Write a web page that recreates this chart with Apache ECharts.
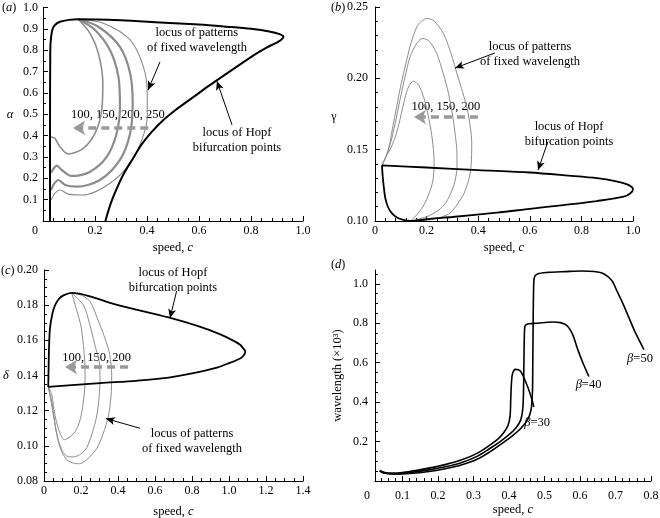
<!DOCTYPE html>
<html><head><meta charset="utf-8">
<script src="https://cdn.jsdelivr.net/npm/echarts@6/dist/echarts.min.js"></script>
<style>html,body{margin:0;padding:0;background:#fff}#c{width:660px;height:518px}</style>
</head><body><div id="c"></div>
<script>
// ---------------- data ----------------
// (a) alpha vs speed
const hopfA = [[0.027,0],[0.027,0.4],[0.028,0.8],[0.031,0.86],[0.037,0.9],[0.046,0.918],[0.065,0.933],[0.1,0.942],[0.135,0.945],[0.3,0.94],[0.45,0.93],[0.6,0.92],[0.706,0.91],[0.8,0.9],[0.87,0.888],[0.91,0.875],[0.925,0.862],[0.915,0.848],[0.899,0.836],[0.86,0.812],[0.822,0.785],[0.76,0.735],[0.706,0.69],[0.64,0.635],[0.578,0.58],[0.51,0.52],[0.46,0.47],[0.42,0.42],[0.38,0.36],[0.347,0.295],[0.31,0.22],[0.283,0.15],[0.26,0.08],[0.24,0]];
const patA100 = [[0.136,0.945],[0.181,0.879],[0.213,0.785],[0.23,0.645],[0.226,0.52],[0.2,0.41],[0.155,0.34],[0.097,0.314],[0.065,0.348],[0.046,0.387],[0.031,0.395]];
const patA150 = [[0.136,0.945],[0.2,0.895],[0.258,0.80],[0.29,0.676],[0.296,0.535],[0.283,0.41],[0.245,0.30],[0.181,0.231],[0.11,0.211],[0.072,0.239],[0.053,0.259],[0.037,0.239],[0.031,0.226]];
const patA200 = [[0.136,0.945],[0.213,0.91],[0.296,0.816],[0.335,0.692],[0.345,0.551],[0.335,0.41],[0.296,0.286],[0.219,0.192],[0.13,0.161],[0.085,0.169],[0.059,0.192],[0.042,0.173],[0.031,0.145]];
const patA250 = [[0.136,0.945],[0.232,0.926],[0.335,0.848],[0.386,0.723],[0.401,0.598],[0.401,0.489],[0.38,0.379],[0.335,0.27],[0.258,0.177],[0.155,0.122],[0.097,0.126],[0.065,0.145],[0.046,0.13],[0.031,0.098]];

// (b) gamma vs speed
const hopfB = [[0.027,0.139],[0.2,0.1375],[0.4,0.1357],[0.6,0.134],[0.75,0.1318],[0.86,0.13],[0.935,0.1278],[0.975,0.1258],[0.995,0.1238],[1.0,0.1222],[0.99,0.1195],[0.964,0.117],[0.86,0.114],[0.731,0.1112],[0.6,0.1085],[0.472,0.1058],[0.3,0.1028],[0.213,0.1015],[0.137,0.1],[0.11,0.1008],[0.085,0.1025],[0.065,0.1055],[0.05,0.11],[0.04,0.116],[0.034,0.124],[0.03,0.131],[0.027,0.139]];
const patB100 = [[0.027,0.139],[0.042,0.145],[0.058,0.150],[0.075,0.157],[0.09,0.166],[0.103,0.176],[0.116,0.186],[0.13,0.194],[0.149,0.198],[0.17,0.195],[0.19,0.186],[0.205,0.175],[0.22,0.16],[0.228,0.147],[0.229,0.138],[0.224,0.128],[0.215,0.122],[0.2,0.115],[0.182,0.109],[0.16,0.104],[0.137,0.1]];
const patB150 = [[0.027,0.139],[0.035,0.142],[0.048,0.148],[0.065,0.158],[0.08,0.17],[0.097,0.185],[0.115,0.2],[0.136,0.215],[0.16,0.224],[0.185,0.228],[0.21,0.226],[0.239,0.2175],[0.265,0.203],[0.285,0.1895],[0.3,0.175],[0.31,0.162],[0.317,0.15],[0.318,0.138],[0.31,0.128],[0.299,0.1217],[0.275,0.113],[0.247,0.1077],[0.2,0.103],[0.137,0.1]];
const patB200 = [[0.027,0.139],[0.038,0.143],[0.052,0.15],[0.068,0.165],[0.084,0.18],[0.1,0.195],[0.123,0.213],[0.14,0.225],[0.162,0.236],[0.18,0.24],[0.203,0.242],[0.23,0.24],[0.265,0.2315],[0.29,0.22],[0.31,0.208],[0.335,0.193],[0.356,0.18],[0.37,0.165],[0.375,0.155],[0.372,0.138],[0.362,0.128],[0.344,0.119],[0.32,0.112],[0.286,0.105],[0.22,0.101],[0.137,0.1]];

// (c) delta vs speed
const hopfC = [[0.023,0.1335],[0.025,0.145],[0.027,0.155],[0.032,0.1666],[0.045,0.175],[0.06,0.18],[0.08,0.1835],[0.105,0.1856],[0.15,0.187],[0.4,0.180],[0.673,0.173],[0.85,0.1675],[0.95,0.1635],[1.02,0.16],[1.06,0.1575],[1.08,0.155],[1.088,0.1537],[1.08,0.1515],[1.06,0.1497],[1.0,0.147],[0.935,0.1445],[0.8,0.1412],[0.664,0.1386],[0.5,0.137],[0.303,0.1357],[0.15,0.1345],[0.023,0.1335]];
const patC100 = [[0.023,0.1335],[0.042,0.129],[0.06,0.117],[0.087,0.107],[0.11,0.1035],[0.123,0.104],[0.145,0.1055],[0.168,0.108],[0.19,0.113],[0.204,0.119],[0.218,0.13],[0.222,0.138],[0.22,0.148],[0.213,0.157],[0.2,0.168],[0.177,0.177],[0.15,0.187]];
const patC150 = [[0.023,0.1335],[0.035,0.127],[0.05,0.118],[0.065,0.109],[0.078,0.103],[0.1,0.097],[0.125,0.094],[0.159,0.0937],[0.2,0.0955],[0.231,0.099],[0.26,0.107],[0.285,0.117],[0.298,0.128],[0.303,0.138],[0.298,0.148],[0.276,0.157],[0.245,0.17],[0.213,0.18],[0.15,0.187]];
const patC200 = [[0.023,0.1335],[0.042,0.125],[0.056,0.115],[0.069,0.1065],[0.09,0.098],[0.12,0.0925],[0.15,0.0905],[0.18,0.0898],[0.204,0.0902],[0.24,0.093],[0.285,0.0985],[0.32,0.107],[0.348,0.117],[0.362,0.128],[0.366,0.14],[0.355,0.152],[0.33,0.161],[0.29,0.172],[0.249,0.182],[0.2,0.1858],[0.15,0.187]];

// (d) wavelength (x10^3) vs speed
const beta30 = [[0.036,0.052],[0.045,0.045],[0.06,0.04],[0.08,0.04],[0.12,0.048],[0.17,0.064],[0.22,0.083],[0.265,0.106],[0.31,0.14],[0.347,0.183],[0.37,0.215],[0.385,0.245],[0.397,0.28],[0.403,0.33],[0.405,0.42],[0.407,0.50],[0.41,0.545],[0.418,0.566],[0.432,0.558],[0.446,0.507],[0.46,0.44],[0.47,0.375]];
const beta40 = [[0.036,0.052],[0.045,0.043],[0.06,0.038],[0.08,0.037],[0.12,0.043],[0.17,0.055],[0.22,0.072],[0.265,0.093],[0.31,0.125],[0.347,0.166],[0.375,0.2],[0.4,0.235],[0.42,0.27],[0.433,0.31],[0.439,0.37],[0.441,0.47],[0.442,0.6],[0.443,0.72],[0.445,0.785],[0.455,0.797],[0.48,0.80],[0.52,0.806],[0.545,0.803],[0.565,0.785],[0.58,0.74],[0.593,0.67],[0.608,0.6],[0.625,0.53]];
const beta50 = [[0.036,0.052],[0.045,0.042],[0.06,0.037],[0.08,0.035],[0.12,0.038],[0.17,0.047],[0.22,0.062],[0.265,0.081],[0.31,0.11],[0.347,0.149],[0.38,0.19],[0.41,0.23],[0.435,0.27],[0.452,0.31],[0.462,0.36],[0.466,0.45],[0.467,0.6],[0.468,0.8],[0.469,0.95],[0.471,1.03],[0.48,1.05],[0.51,1.058],[0.56,1.062],[0.605,1.065],[0.64,1.062],[0.668,1.05],[0.69,1.015],[0.705,0.96],[0.724,0.887],[0.752,0.768],[0.765,0.72],[0.78,0.666]];

// tick labels
const dXTicks = [0.1,0.2,0.3,0.4,0.5,0.6,0.7,0.8];
const dYTicks = [0.2,0.4,0.6,0.8,1.0];

// texts
const txtPatterns = 'locus of patterns\nof fixed wavelength';
const txtHopf = 'locus of Hopf\nbifurcation points';
const notes = [
  {g:0, text: txtPatterns, at:[0.592,0.845]},
  {g:0, text: txtHopf, at:[0.746,0.379]},
  {g:0, text:'100, 150, 200, 250', at:[0.288,0.497]},
  {g:1, text: txtPatterns, at:[0.601,0.2167]},
  {g:1, text:'100, 150, 200', at:[0.275,0.18]},
  {g:1, text: txtHopf, at:[0.752,0.1606]},
  {g:2, text: txtHopf, at:[0.697,0.194]},
  {g:2, text:'100, 150, 200', at:[0.284,0.15]},
  {g:2, text: txtPatterns, at:[0.8,0.1025]},
  {g:3, text:'{i|β}=30', at:[0.479,0.298]},
  {g:3, text:'{i|β}=40', at:[0.624,0.487]},
  {g:3, text:'{i|β}=50', at:[0.769,0.619]}
];
const arrowsBlack = [
  {g:0, from:[0.45,0.745], to:[0.404,0.614]},
  {g:0, from:[0.727,0.45], to:[0.669,0.655]},
  {g:1, from:[0.465,0.2178], to:[0.31,0.2072]},
  {g:1, from:[0.67,0.1556], to:[0.632,0.1357]},
  {g:2, from:[0.717,0.188], to:[0.681,0.1727]},
  {g:2, from:[0.519,0.110], to:[0.335,0.1155]}
];
const arrowsDashed = [
  {g:0, from:[0.405,0.436], to:[0.116,0.436]},
  {g:1, from:[0.399,0.1729], to:[0.151,0.1729]},
  {g:2, from:[0.454,0.1448], to:[0.114,0.1448]}
];

// ---------------- chart ----------------
const FONT = 'Liberation Serif';
const GRAY = '#8c8c8c';
const chart = echarts.init(document.getElementById('c'), null, {renderer:'canvas'});

const baseLabel = (margin) => ({fontFamily: FONT, fontSize: 12, color: '#000', margin});
const nameStyle = {fontFamily: FONT, fontSize: 12.5, color: '#000',
  rich: {i: {fontFamily: FONT, fontSize: 12.5, fontStyle: 'italic', color:'#000'}}};

function axisCommon() {
  return {
    axisLine: {show: true, onZero: false, lineStyle: {color: '#000', width: 1}},
    axisTick: {show: true, inside: true, length: 5, lineStyle: {color: '#000', width: 1}},
    minorTick: {show: true, length: 3, lineStyle: {color: '#000', width: 1}},
    splitLine: {show: false}, minorSplitLine: {show: false}
  };
}
function xAx(grid, min, max, interval, minorSplit, fmt, margin, nameGap) {
  const a = axisCommon();
  a.minorTick.splitNumber = minorSplit;
  return Object.assign(a, {type:'value', gridIndex:grid, position:'bottom', min, max, interval,
    axisLabel: Object.assign(baseLabel(margin), {formatter: fmt, showMinLabel:true, showMaxLabel:true}),
    name: 'speed, {i|c}', nameLocation:'middle', nameGap, nameTextStyle: nameStyle});
}
function yAx(grid, min, max, interval, minorSplit, fmt, margin) {
  const a = axisCommon();
  a.minorTick.splitNumber = minorSplit;
  return Object.assign(a, {type:'value', gridIndex:grid, position:'left', min, max, interval,
    axisLabel: Object.assign(baseLabel(margin), {formatter: fmt, showMinLabel:true, showMaxLabel:true})});
}

const xAxes = [
  xAx(0, 0, 1.0, 0.2, 5, v => v === 0 ? '' : v.toFixed(1), 4, 20),
  xAx(1, 0, 1.0, 0.2, 5, v => v === 0 ? '0' : v.toFixed(1), 4, 20),
  xAx(2, 0, 1.4, 0.2, 4, v => v === 0 ? '0' : v.toFixed(1), 4, 24),
];
const yAxes = [
  yAx(0, 0, 1.0, 0.1, 2, v => v === 0 ? '' : v.toFixed(1), 5),
  yAx(1, 0.10, 0.25, 0.05, 5, v => v.toFixed(2), 7),
  yAx(2, 0.08, 0.20, 0.02, 4, v => v.toFixed(2), 6),
];
// (d) axes: custom ticks
const dXMin = 0.0225, dXMax = 0.8, dYMin = 0, dYMax = 1.07;
const dMinorX = []; for (let k = 2; k <= 40; k++) { if (k % 5) dMinorX.push(+(k * 0.02).toFixed(2)); }
const dMinorY = []; for (let k = 1; k <= 21; k++) { if (k % 4) dMinorY.push(+(k * 0.05).toFixed(2)); }
xAxes.push({type:'value', gridIndex:3, position:'bottom', min:dXMin, max:dXMax,
  axisLine:{show:true, onZero:false, lineStyle:{color:'#000', width:1}},
  axisTick:{show:true, inside:true, length:5, customValues: dXTicks, lineStyle:{color:'#000'}},
  axisLabel: Object.assign(baseLabel(9), {customValues: dXTicks, formatter: v => v.toFixed(1)}),
  splitLine:{show:false},
  name:'speed, {i|c}', nameLocation:'middle', nameGap:22, nameTextStyle: nameStyle});
yAxes.push({type:'value', gridIndex:3, position:'left', min:dYMin, max:dYMax,
  axisLine:{show:true, onZero:false, lineStyle:{color:'#000', width:1}},
  axisTick:{show:true, inside:true, length:5, customValues: dYTicks, lineStyle:{color:'#000'}},
  axisLabel: Object.assign(baseLabel(7), {customValues: dYTicks, formatter: v => v.toFixed(1)}),
  splitLine:{show:false},
  name:'wavelength (×10³)', nameLocation:'middle', nameGap:31, nameTextStyle: nameStyle});
// minor tick overlays for (d)
xAxes.push({type:'value', gridIndex:3, position:'bottom', offset:0, min:dXMin, max:dXMax,
  axisLine:{show:false}, axisLabel:{show:false}, splitLine:{show:false},
  axisTick:{show:true, inside:true, length:3, customValues: dMinorX, lineStyle:{color:'#000'}}});
yAxes.push({type:'value', gridIndex:3, position:'left', offset:0, min:dYMin, max:dYMax,
  axisLine:{show:false}, axisLabel:{show:false}, splitLine:{show:false},
  axisTick:{show:true, inside:true, length:3, customValues: dMinorY, lineStyle:{color:'#000'}}});

const grids = [
  {left:43, top:7.5, width:260, height:213.5, outerBoundsMode:'none'},
  {left:375, top:7, width:258, height:214, outerBoundsMode:'none'},
  {left:44, top:270, width:259, height:211, outerBoundsMode:'none'},
  {left:375, top:270, width:276, height:211, outerBoundsMode:'none'}
];

function line(i, data, color, width, extra) {
  return Object.assign({type:'line', xAxisIndex:i, yAxisIndex:i, data, symbol:'none', showSymbol:false,
    smooth:0.3, silent:true, lineStyle:{color, width}, z:3}, extra || {});
}
function markLines(g) {
  const d = [];
  arrowsBlack.filter(a => a.g === g).forEach(a => d.push([
    {coord:a.from, symbol:'none', lineStyle:{color:'#000', width:1, type:'solid'}},
    {coord:a.to, symbol:'arrow', symbolSize:[6,9]}]));
  arrowsDashed.filter(a => a.g === g).forEach(a => d.push([
    {coord:a.from, symbol:'none', lineStyle:{color:'#9a9a9a', width:3.5, type:[8,5]}},
    {coord:a.to, symbol:'arrow', symbolSize:[11,12]}]));
  return {silent:true, animation:false, label:{show:false}, emphasis:{disabled:true}, data:d};
}

const series = [
  line(0, patA100, GRAY, 1.6), line(0, patA150, GRAY, 2.2), line(0, patA200, GRAY, 2.2), line(0, patA250, GRAY, 1.1),
  line(0, hopfA, '#000', 2, {markLine: markLines(0)}),
  line(1, patB100, GRAY, 1), line(1, patB150, GRAY, 1), line(1, patB200, GRAY, 1),
  line(1, hopfB, '#000', 1.8, {markLine: markLines(1)}),
  line(2, patC100, GRAY, 1), line(2, patC150, GRAY, 1), line(2, patC200, GRAY, 1),
  line(2, hopfC, '#000', 1.8, {markLine: markLines(2)}),
  line(3, beta30, '#000', 1.6), line(3, beta40, '#000', 1.6), line(3, beta50, '#000', 1.6)
];

chart.setOption({animation:false, backgroundColor:'#fff', grid:grids, xAxis:xAxes, yAxis:yAxes, series});

// texts
const rich = {i:{font:'italic 12.5px "Liberation Serif"', fill:'#000'}};
const graphics = [];
notes.forEach(n => {
  const p = chart.convertToPixel({xAxisIndex:n.g, yAxisIndex:n.g}, n.at);
  graphics.push({type:'text', silent:true, style:{text:n.text, x:p[0], y:p[1], font:'12.5px "Liberation Serif"', fill:'#000', align:'center', verticalAlign:'middle', lineHeight:15, rich}});
});
const fixedTexts = [
  {text:'({i|a})', x:2, y:8, align:'left'},
  {text:'({i|b})', x:331, y:8, align:'left'},
  {text:'({i|c})', x:1, y:271, align:'left'},
  {text:'({i|d})', x:331, y:265, align:'left'},
  {text:'{i|α}', x:10, y:115, align:'center'},
  {text:'γ', x:334, y:117, align:'center'},
  {text:'{i|δ}', x:6, y:376, align:'center'},
  {text:'0', x:35, y:231, align:'center'},
  {text:'0', x:367, y:496, align:'center'}
];
fixedTexts.forEach(t => graphics.push({type:'text', silent:true, style:{text:t.text, x:t.x, y:t.y, font:'12px "Liberation Serif"', fill:'#000', align:t.align, verticalAlign:'middle', rich}}));
chart.setOption({graphic: graphics});
</script></body></html>
